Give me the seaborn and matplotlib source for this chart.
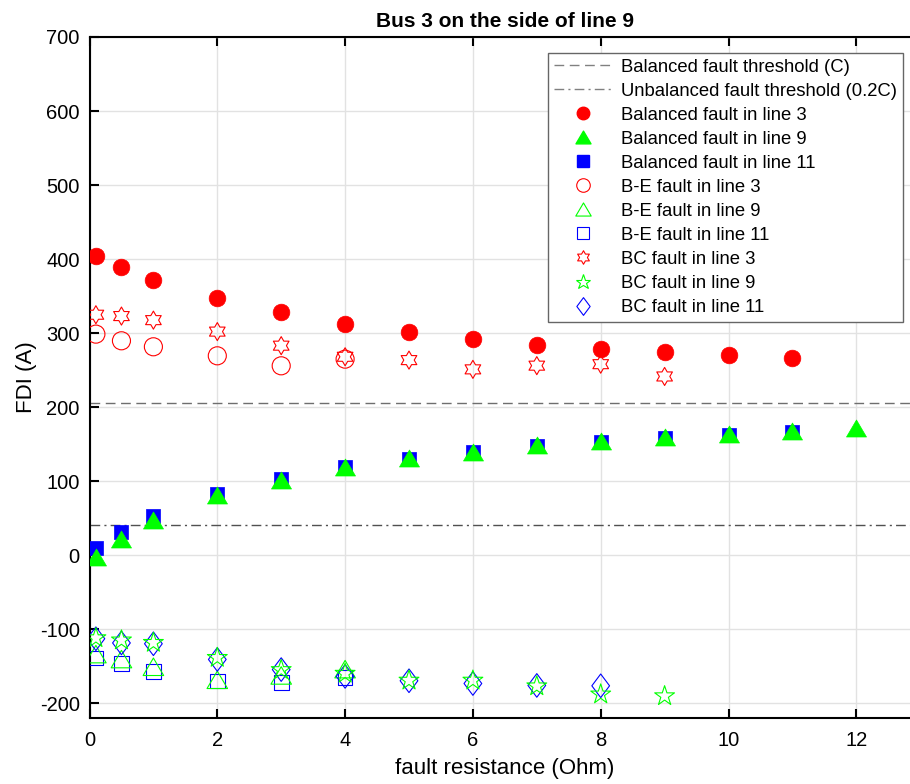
import numpy as np
import pandas as pd
import matplotlib
matplotlib.use("Agg")
import matplotlib.pyplot as plt
from matplotlib.path import Path
from matplotlib.lines import Line2D
import seaborn as sns

# ---------------- data ----------------
R_bal3 = [0.1, 0.5, 1, 2, 3, 4, 5, 6, 7, 8, 9, 10, 11]
bal_l3 = [404.5, 388.7, 372, 347, 328, 312, 301, 292, 284, 278, 274.6, 270, 266.5]
R_bal9 = [0.1, 0.5, 1, 2, 3, 4, 5, 6, 7, 8, 9, 10, 11, 12]
bal_l9 = [-3, 22.3, 48, 81.3, 101, 119, 131.3, 140, 148.4, 154.3, 159.7, 164.3, 168.3, 171.4]
R_bal11 = [0.1, 0.5, 1, 2, 3, 4, 5, 6, 7, 8, 9, 10, 11]
bal_l11 = [10, 31.7, 52.9, 82.6, 102.9, 119, 130, 139.4, 147.5, 153.4, 158.3, 162.4, 166.4]

R_be = [0.1, 0.5, 1, 2, 3, 4]
be_l3 = [298.6, 289.6, 281.5, 269.3, 255.8, 264.8]
be_l9 = [-133.7, -140.4, -150.8, -168.4, -162.5, -154]
be_l11 = [-138.8, -146.7, -156.7, -170.2, -172.2, -165.5]

R_bc3 = [0.1, 0.5, 1, 2, 3, 4, 5, 6, 7, 8, 9]
bc_l3 = [324.8, 323, 317.5, 302, 283, 268, 263.5, 251, 256, 258, 241.4]
R_bc9 = [0.1, 0.5, 1, 2, 3, 4, 5, 6, 7, 8, 9]
bc_l9 = [-112, -115, -118.3, -138.6, -155, -160, -169.3, -169.3, -177, -188, -190.4]
R_bc11 = [0.1, 0.5, 1, 2, 3, 4, 5, 6, 7, 8]
bc_l11 = [-112.9, -118.6, -119.7, -140.9, -154.6, -163.8, -169.7, -173.4, -176, -176.5]

C_threshold = 206.0
C_unbal = 0.2 * C_threshold

labels = ["Balanced fault threshold (C)", "Unbalanced fault threshold (0.2C)",
          "Balanced fault in line 3", "Balanced fault in line 9", "Balanced fault in line 11",
          "B-E fault in line 3", "B-E fault in line 9", "B-E fault in line 11",
          "BC fault in line 3", "BC fault in line 9", "BC fault in line 11"]

# ---------------- style ----------------
sns.set_theme(style="ticks")
plt.rcParams['font.family'] = ['Liberation Sans', 'DejaVu Sans']
plt.rcParams['axes.linewidth'] = 1.5
plt.rcParams['axes.unicode_minus'] = False
plt.rcParams['text.color'] = 'black'
plt.rcParams['axes.labelcolor'] = 'black'
plt.rcParams['xtick.color'] = 'black'
plt.rcParams['ytick.color'] = 'black'

RED, GREEN, BLUE = (1, 0, 0), (0, 1, 0), (0, 0, 1)

tri = Path([(0, 0.85), (-1, -0.85), (1, -0.85), (0, 0.85)],
           [Path.MOVETO, Path.LINETO, Path.LINETO, Path.CLOSEPOLY])
dia = Path([(0, 1), (0.75, 0), (0, -1), (-0.75, 0), (0, 1)],
           [Path.MOVETO, Path.LINETO, Path.LINETO, Path.LINETO, Path.CLOSEPOLY])
hexa = Path.unit_regular_star(6, 1 / np.sqrt(3))

fig = plt.figure(figsize=(9.1, 7.84), dpi=100)
x0 = 89.5
px_per_unit = 63.9
ax_right = x0 + 13 * px_per_unit
ax = fig.add_axes([x0 / 910, 1 - 718 / 784, (ax_right - x0) / 910, (718 - 37) / 784])

ax.set_axisbelow(True)
ax.grid(True, color='#e2e2e2', linewidth=1.0)

# thresholds
th = pd.DataFrame({"x": [0, 13], "c": [C_threshold, C_threshold], "u": [C_unbal, C_unbal]})
sns.lineplot(data=th, x="x", y="c", ax=ax, color='#6e6e6e', linewidth=1.0,
             linestyle=(0, (7, 4)), zorder=2)
sns.lineplot(data=th, x="x", y="u", ax=ax, color='#505050', linewidth=1.0,
             linestyle=(0, (7, 3, 1.5, 3)), zorder=2)

def pts(x, y, marker, size_pt, color, filled, z):
    sns.scatterplot(x=x, y=y, marker=marker, s=size_pt ** 2, color=color,
                    edgecolor=color, linewidth=0.5 if filled else 0.8,
                    ax=ax, legend=False, zorder=z)
    coll = ax.collections[-1]
    if not filled:
        coll.set_facecolor('none')
    coll.set_edgecolor(color)

pts(R_bal3, bal_l3, 'o', 12, RED, True, 3)
pts(R_bal11, bal_l11, 's', 10.6, BLUE, True, 3)
pts(R_bal9, bal_l9, tri, 14.4, GREEN, True, 3)
pts(R_be, be_l3, 'o', 13, RED, False, 4)
pts(R_be, be_l11, 's', 10.6, BLUE, False, 4)
pts(R_be, be_l9, tri, 14.8, GREEN, False, 4)
pts(R_bc3, bc_l3, hexa, 13, RED, False, 5)
pts(R_bc11, bc_l11, dia, 17, BLUE, False, 5)
pts(R_bc9, bc_l9, '*', 15, GREEN, False, 5)

ax.set_xlim(0, 13)
ax.set_ylim(-220, 700)
ax.set_xticks([0, 2, 4, 6, 8, 10, 12])
ax.set_yticks([-200, -100, 0, 100, 200, 300, 400, 500, 600, 700])
ax.tick_params(axis='both', direction='in', length=6.5, width=1.5, labelsize=14.5,
               top=True, right=True, color='black', labelcolor='black')
ax.tick_params(axis='y', pad=7)
ax.tick_params(axis='x', pad=9)
for s in ax.spines.values():
    s.set_color('black')
    s.set_linewidth(1.5)

ax.set_xlabel("fault resistance (Ohm)", fontsize=16, labelpad=6, color='black')
ax.set_ylabel("FDI (A)", fontsize=16, labelpad=2, color='black')
ax.set_title("Bus 3 on the side of line 9", fontsize=15, fontweight='bold', pad=7, color='black')

# legend
k = 0.75
handles = [
    Line2D([], [], color='#808080', linewidth=1.0, linestyle=(0, (7, 4))),
    Line2D([], [], color='#808080', linewidth=1.0, linestyle=(0, (7, 3, 1.5, 3))),
    Line2D([], [], linestyle='none', marker='o', markersize=12 * k, color=RED, markeredgecolor=RED),
    Line2D([], [], linestyle='none', marker=tri, markersize=14.4 * k, color=GREEN, markeredgecolor=GREEN),
    Line2D([], [], linestyle='none', marker='s', markersize=10.6 * k, color=BLUE, markeredgecolor=BLUE),
    Line2D([], [], linestyle='none', marker='o', markersize=13 * k, markerfacecolor='none', markeredgecolor=RED, markeredgewidth=0.8),
    Line2D([], [], linestyle='none', marker=tri, markersize=14.8 * k, markerfacecolor='none', markeredgecolor=GREEN, markeredgewidth=0.8),
    Line2D([], [], linestyle='none', marker='s', markersize=10.6 * k, markerfacecolor='none', markeredgecolor=BLUE, markeredgewidth=0.8),
    Line2D([], [], linestyle='none', marker=hexa, markersize=13 * k, markerfacecolor='none', markeredgecolor=RED, markeredgewidth=0.8),
    Line2D([], [], linestyle='none', marker='*', markersize=15 * k, markerfacecolor='none', markeredgecolor=GREEN, markeredgewidth=0.8),
    Line2D([], [], linestyle='none', marker=dia, markersize=17 * k, markerfacecolor='none', markeredgecolor=BLUE, markeredgewidth=0.8),
]
leg = fig.legend(handles, labels, loc='upper right',
                 bbox_to_anchor=(903 / 910, 1 - 52.7 / 784), bbox_transform=fig.transFigure,
                 borderaxespad=0, fontsize=13.3, handlelength=3.2, handletextpad=0.43,
                 borderpad=0.33, labelspacing=0.38, frameon=True, fancybox=False,
                 framealpha=1, edgecolor='#666666')
leg.get_frame().set_linewidth(1.0)
for t in leg.get_texts():
    t.set_color('black')

fig.savefig("out.png", dpi=100)
